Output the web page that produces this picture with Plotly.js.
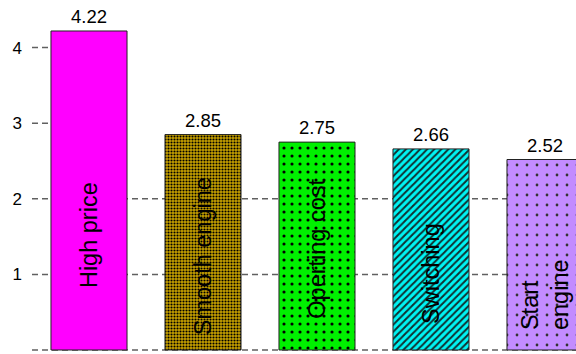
<!DOCTYPE html>
<html>
<head>
<meta charset="utf-8">
<script src="https://cdn.plot.ly/plotly-3.0.1.min.js"></script>
<style>
  html, body { margin: 0; padding: 0; background: #ffffff; }
  #chart { width: 576px; height: 354px; }
</style>
</head>
<body>
<div id="chart"></div>
<script>
// Reasons ranking: mean score per reason
const categories = ['High price', 'Smooth engine', 'Operting cost', 'Switching', 'Start<br>engine'];
const values = [4.22, 2.85, 2.75, 2.66, 2.52];
const yTicks = [0, 1, 2, 3, 4];

// Styling per bar (fill colour + hatch pattern)
const barStyles = [
  { color: '#ff00ff', pattern: { shape: '' } },
  { color: '#c9a200', pattern: { shape: '.', size: 3, solidity: 0.4, fgcolor: '#000000', bgcolor: '#c9a200' } },
  { color: '#00f000', pattern: { shape: '.', size: 8, solidity: 0.12, fgcolor: '#000000', bgcolor: '#00f000' } },
  { color: '#00f4f4', pattern: { shape: '/', size: 5, solidity: 0.4, fgcolor: '#103030', bgcolor: '#00f4f4' } },
  { color: '#c38cff', pattern: { shape: '.', size: 10, solidity: 0.06, fgcolor: '#333333', bgcolor: '#c38cff' } }
];

// Centre height (in data units) of each rotated name label
const nameLabelY = [1.52, 1.24, 1.34, 1.02, 0.74];

const FONT = 'Liberation Sans, Arial, Helvetica, sans-serif';
const xs = categories.map((_, i) => i);

const traces = xs.map(i => ({
  type: 'bar',
  x: [xs[i]],
  y: [values[i]],
  width: 0.667,
  marker: {
    color: barStyles[i].color,
    pattern: barStyles[i].pattern,
    line: { color: '#222222', width: 1 }
  },
  hoverinfo: 'skip',
  showlegend: false
}));

const dashStyle = { color: '#606060', width: 1.5, dash: '6px,4px' };

// Dashed reference lines: full width at low levels, short ticks above
const shapes = [];
yTicks.forEach(v => {
  if (v <= 2) {
    shapes.push({ type: 'line', layer: 'below', xref: 'paper', x0: 0, x1: 1, yref: 'y', y0: v, y1: v, line: dashStyle });
  } else {
    shapes.push({ type: 'line', layer: 'below', xref: 'x', x0: -0.5, x1: 0, yref: 'y', y0: v, y1: v, line: dashStyle });
  }
});

const annotations = [];
xs.forEach(i => {
  annotations.push({
    x: xs[i], y: values[i], xref: 'x', yref: 'y',
    text: values[i].toFixed(2),
    showarrow: false, yanchor: 'bottom', yshift: 2,
    font: { family: FONT, size: 18.5, color: '#000000' }
  });
  annotations.push({
    x: xs[i], y: nameLabelY[i], xref: 'x', yref: 'y',
    text: categories[i],
    textangle: -90, align: 'left',
    showarrow: false, xanchor: 'center', yanchor: 'middle',
    font: { family: FONT, size: 23.5, color: '#000000' }
  });
});

const layout = {
  width: 576, height: 354,
  margin: { l: 32, r: 0, t: 0, b: 0, pad: 0 },
  paper_bgcolor: '#ffffff', plot_bgcolor: '#ffffff',
  font: { family: FONT, size: 17, color: '#000000' },
  bargap: 0.333,
  xaxis: {
    range: [-0.5, 4.272], showgrid: false, zeroline: false, showline: false,
    showticklabels: false, ticks: '', fixedrange: true
  },
  yaxis: {
    range: [-0.053, 4.63], tickvals: yTicks, ticktext: yTicks.map(String),
    showgrid: false, zeroline: false, showline: false, ticks: '',
    ticklabelstandoff: 9,
    tickfont: { family: FONT, size: 17, color: '#000000' }, fixedrange: true
  },
  shapes: shapes,
  annotations: annotations
};

Plotly.newPlot('chart', traces, layout, { staticPlot: true, displayModeBar: false });
</script>
</body>
</html>
